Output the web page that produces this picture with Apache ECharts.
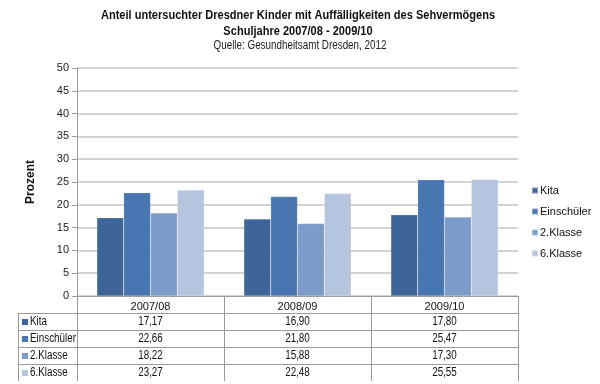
<!DOCTYPE html>
<html><head><meta charset="utf-8">
<script src="https://cdn.jsdelivr.net/npm/echarts@6/dist/echarts.min.js"></script>
<style>html,body{margin:0;padding:0;background:#fff}#c{width:600px;height:384px}</style>
</head><body><div id="c"></div>
<script>
const categories = ['2007/08', '2008/09', '2009/10'];
const seriesNames = ['Kita', 'Einschüler', '2.Klasse', '6.Klasse'];
const kita = [17.17, 16.90, 17.80];
const einschueler = [22.66, 21.80, 25.47];
const klasse2 = [18.22, 15.88, 17.30];
const klasse6 = [23.27, 22.48, 25.55];
const yTicks = [0, 5, 10, 15, 20, 25, 30, 35, 40, 45, 50];
const titleLines = ['Anteil untersuchter Dresdner Kinder mit Auffälligkeiten des Sehvermögens', 'Schuljahre 2007/08 - 2009/10'];
const subtitle = 'Quelle: Gesundheitsamt Dresden, 2012';

const seriesData = [kita, einschueler, klasse2, klasse6];
const colors = ['#3d6598', '#4876b0', '#7d9bc8', '#b5c4df'];
const FONT = "'Liberation Sans', Arial, sans-serif";
const NARROW = 0.82;

const G = {left: 77, right: 518, top: 68, bottom: 296};
const rowH = 17;
const tableLeft = 18;

const chart = echarts.init(document.getElementById('c'), null, {renderer: 'canvas'});

const option = {
  backgroundColor: '#fff',
  animation: false,
  textStyle: {fontFamily: FONT},
  legend: {
    orient: 'vertical', left: 531, top: 185, padding: 0,
    itemWidth: 6, itemHeight: 6, itemGap: 10, icon: 'rect',
    textStyle: {fontFamily: FONT, fontSize: 11, color: '#111', padding: [0, 0, 0, -3]},
    data: seriesNames
  },
  grid: {left: G.left, right: 600 - G.right, top: G.top, bottom: 384 - G.bottom, containLabel: false},
  xAxis: {
    type: 'category', data: categories,
    axisLine: {show: true, lineStyle: {color: '#9a9a9a', width: 1}},
    axisTick: {show: true, alignWithLabel: false, inside: false, length: rowH * 5, lineStyle: {color: '#9a9a9a'}},
    axisLabel: {fontFamily: FONT, fontSize: 11, color: '#111', margin: 5}
  },
  yAxis: {
    type: 'value', min: yTicks[0], max: yTicks[yTicks.length - 1], interval: yTicks[1] - yTicks[0],
    name: 'Prozent', nameLocation: 'middle', nameGap: 40, nameRotate: 90,
    nameTextStyle: {fontFamily: FONT, fontSize: 12, fontWeight: 'bold', color: '#111'},
    axisLine: {show: true, lineStyle: {color: '#9a9a9a'}},
    axisTick: {show: true, length: 5, lineStyle: {color: '#9a9a9a'}},
    axisLabel: {fontFamily: FONT, fontSize: 11, color: '#222', margin: 8},
    splitLine: {show: true, lineStyle: {color: '#c4c4c4', width: 1.5}}
  },
  series: seriesNames.map((n, i) => ({
    name: n, type: 'bar', data: seriesData[i],
    barGap: '0%', barCategoryGap: '27%',
    itemStyle: {color: colors[i], borderColor: 'rgba(255,255,255,0.35)', borderWidth: 0.5}
  }))
};
chart.setOption(option);

const els = [];
// title (narrow-looking text)
titleLines.forEach((t, i) => {
  els.push({type: 'text', x: 298, y: 15 + i * 16, scaleX: 0.85,
    style: {text: t, fontFamily: FONT, fontSize: 13, fontWeight: 'bold', fill: '#111', align: 'center', verticalAlign: 'middle'}});
});
els.push({type: 'text', x: 300, y: 46, scaleX: NARROW,
  style: {text: subtitle, fontFamily: FONT, fontSize: 12, fill: '#222', align: 'center', verticalAlign: 'middle'}});

// data table below the axis
const lineStyle = {stroke: '#9a9a9a', lineWidth: 1};
for (let r = 1; r <= seriesNames.length; r++) {
  const y = G.bottom + rowH * r + 0.5;
  els.push({type: 'line', shape: {x1: tableLeft, y1: y, x2: G.right, y2: y}, style: lineStyle, silent: true});
}
els.push({type: 'line', shape: {x1: tableLeft + 0.5, y1: G.bottom + rowH, x2: tableLeft + 0.5, y2: G.bottom + rowH * 5}, style: lineStyle});
els.push({type: 'line', shape: {x1: G.left + 0.5, y1: G.bottom, x2: G.left + 0.5, y2: G.bottom + rowH * 5}, style: lineStyle});
seriesNames.forEach((n, i) => {
  const cy = G.bottom + rowH * (i + 1) + rowH / 2 + 0.5;
  els.push({type: 'rect', shape: {x: tableLeft + 4, y: cy - 3, width: 6, height: 6}, style: {fill: colors[i]}});
  els.push({type: 'text', x: tableLeft + 12, y: cy, scaleX: NARROW,
    style: {text: n, fontFamily: FONT, fontSize: 12, fill: '#111', verticalAlign: 'middle', align: 'left'}});
  categories.forEach((c, j) => {
    const cx = chart.convertToPixel({xAxisIndex: 0}, c);
    els.push({type: 'text', x: cx, y: cy, scaleX: NARROW,
      style: {text: seriesData[i][j].toFixed(2).replace('.', ','), fontFamily: FONT, fontSize: 12, fill: '#111', verticalAlign: 'middle', align: 'center'}});
  });
});
chart.setOption({graphic: els});
</script></body></html>
